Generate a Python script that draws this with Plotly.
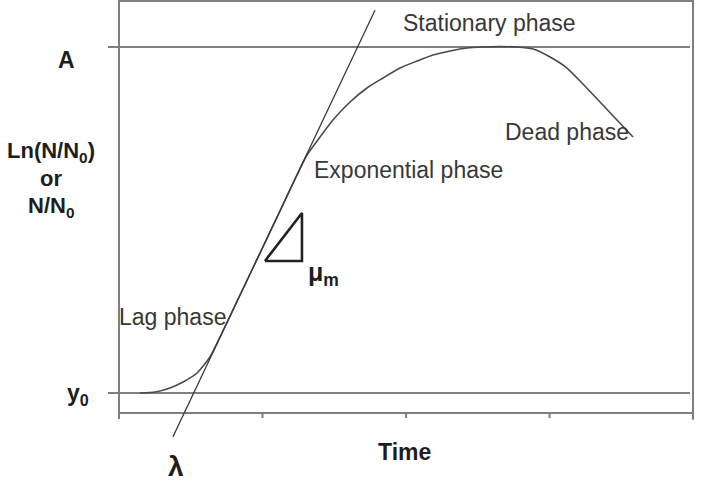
import plotly.graph_objects as go

# ---- data (Time units, log-count units) ----
curve_time = [0.146, 0.251, 0.355, 0.446, 0.544, 0.634, 0.704, 0.843, 0.983, 1.122,
              1.240, 1.310, 1.401, 1.491, 1.610, 1.728, 1.840, 1.958, 2.077, 2.188,
              2.307, 2.425, 2.537, 2.655, 2.774, 2.885, 3.004, 3.122, 3.233, 3.352,
              3.470, 3.582]
curve_y = [1.000, 1.023, 1.116, 1.254, 1.462, 1.832, 2.295, 3.266, 4.237, 5.208,
           6.040, 6.503, 6.919, 7.312, 7.728, 8.052, 8.283, 8.514, 8.676, 8.815,
           8.908, 8.977, 9.000, 9.010, 9.000, 8.954, 8.769, 8.514, 8.144, 7.728,
           7.312, 6.919]

tangent_time = [0.376, 1.784]
tangent_y = [-0.01, 9.85]

y0_level = 1.0
A_level = 9.0

triangle_time = [1.017, 1.275, 1.275, 1.017]
triangle_y = [4.052, 5.162, 4.052, 4.052]

x_ticks = [0, 1, 2, 3, 4]

box_left, box_right = 0.0, 4.0
box_bottom, box_top = 0.538, 10.064

FONT = "Liberation Sans, Arial, sans-serif"
GRID = "#7f7f7f"

fig = go.Figure()

# frame (box) lines
fig.add_trace(go.Scatter(x=[box_left, box_left, box_right, box_right],
                         y=[0.40, box_top, box_top, 0.38],
                         mode="lines", line=dict(color=GRID, width=2),
                         hoverinfo="skip", showlegend=False))
fig.add_trace(go.Scatter(x=[box_left, box_right], y=[box_bottom, box_bottom],
                         mode="lines", line=dict(color=GRID, width=2),
                         hoverinfo="skip", showlegend=False))
for t in x_ticks[1:-1]:
    fig.add_trace(go.Scatter(x=[t, t], y=[box_bottom, 0.42], mode="lines",
                             line=dict(color=GRID, width=2),
                             hoverinfo="skip", showlegend=False))

# A and y0 reference lines
for lvl in (A_level, y0_level):
    fig.add_trace(go.Scatter(x=[-0.077, 3.979], y=[lvl, lvl], mode="lines",
                             line=dict(color=GRID, width=2),
                             hoverinfo="skip", showlegend=False))

# growth curve
fig.add_trace(go.Scatter(x=curve_time, y=curve_y, mode="lines",
                         line=dict(color="#4a4a4a", width=1.6, shape="spline", smoothing=0.6),
                         hoverinfo="skip", showlegend=False))

# tangent line
fig.add_trace(go.Scatter(x=tangent_time, y=tangent_y, mode="lines",
                         line=dict(color="#3a3a3a", width=1.3),
                         hoverinfo="skip", showlegend=False))

# slope triangle
fig.add_trace(go.Scatter(x=triangle_time, y=triangle_y, mode="lines",
                         line=dict(color="#222222", width=2.6),
                         hoverinfo="skip", showlegend=False))

def label(text, x, y, size, bold=False, color="#383838", ref="x"):
    fig.add_annotation(x=x, y=y,
                       xref="x" if ref == "x" else "paper",
                       yref="y" if ref == "x" else "paper",
                       showarrow=False,
                       text=("<b>%s</b>" % text) if bold else text,
                       font=dict(family=FONT, size=size, color=color),
                       xanchor="center", yanchor="middle")

DARK = "#1e1e1e"
# labels outside the frame (paper coordinates)
label("A", -0.0554, 0.8652, 23, True, DARK, "paper")
label("Ln(N/N<sub>0</sub>)", -0.0822, 0.6584, 22, True, DARK, "paper")
label("or", -0.0822, 0.5990, 22, True, DARK, "paper")
label("N/N<sub>0</sub>", -0.0822, 0.5348, 22, True, DARK, "paper")
label("y<sub>0</sub>", -0.0369, 0.1146, 23, True, DARK, "paper")
label("λ", 0.1275, -0.0472, 28, True, DARK, "paper")
label("Time", 0.5117, -0.0157, 23, True, DARK, "paper")

# labels inside the frame (data coordinates)
label("μ<sub>m</sub>", 1.422, 3.751, 25, True, DARK)
label("Stationary phase", 2.585, 9.555, 23)
label("Dead phase", 3.122, 7.035, 23)
label("Exponential phase", 2.014, 6.156, 23)
label("Lag phase", 0.376, 2.757, 23)

fig.update_layout(
    width=701, height=493,
    margin=dict(l=100, r=5, t=0, b=48),
    paper_bgcolor="white", plot_bgcolor="white",
    xaxis=dict(range=[-0.1324, 4.0209], visible=False, fixedrange=True),
    yaxis=dict(range=[-0.2023, 10.087], visible=False, fixedrange=True),
    showlegend=False,
)

fig.write_html("out.html")
